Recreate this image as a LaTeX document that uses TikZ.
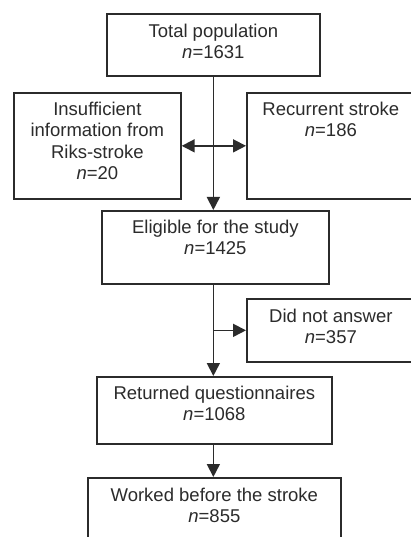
\documentclass[tikz,border=0pt]{standalone}
\usepackage{fontspec}
\setmainfont{Liberation Sans}
\usetikzlibrary{arrows.meta}
\definecolor{ink}{HTML}{2B2B2B}
\newcommand{\fstrut}{\rule{0pt}{14pt}}
\begin{document}
\begin{tikzpicture}[x=1pt,y=-1pt,
  box/.style={draw=ink,line width=1.7pt,rectangle,inner sep=0pt,anchor=north west},
  txt/.style={anchor=north,align=center,inner sep=0pt,text=ink,font=\fontsize{18.5}{21.5}\selectfont},
  conn/.style={draw=ink,line width=1.7pt,-{Triangle[length=13pt,width=13pt]}},
  conn2/.style={draw=ink,line width=1.7pt,{Triangle[length=13pt,width=13pt]}-{Triangle[length=13pt,width=13pt]}}]
\useasboundingbox (0,0) rectangle (411,537);
\clip (0,0) rectangle (411,537);
\fill[white] (0,0) rectangle (411,537);
% boxes
\node[box,minimum width=213pt,minimum height=62pt] (total) at (106,13) {};
\node[box,minimum width=167pt,minimum height=106pt] (ins) at (13,92) {};
\node[box,minimum width=168pt,minimum height=106pt] (rec) at (246,92) {};
\node[box,minimum width=227pt,minimum height=73pt] (elig) at (101,210) {};
\node[box,minimum width=168pt,minimum height=63pt] (dna) at (246,298) {};
\node[box,minimum width=235pt,minimum height=67pt] (ret) at (96,376) {};
\node[box,minimum width=253pt,minimum height=70pt] (work) at (87,477) {};
% texts
\node[txt] (ttotal) at ([yshift=-10pt]total.north) {\fstrut Total population\\\textit{n}=1631};
\node[txt] (tins) at ([yshift=-9pt]ins.north) {\fstrut Insufficient\\information from\\Riks-stroke\\\textit{n}=20};
\node[txt] (trec) at ([yshift=-9pt]rec.north) {\fstrut Recurrent stroke\\\textit{n}=186};
\node[txt] (telig) at ([yshift=-9pt]elig.north) {\fstrut Eligible for the study\\\textit{n}=1425};
\node[txt] (tdna) at ([yshift=-10pt]dna.north) {\fstrut Did not answer\\\textit{n}=357};
\node[txt] (tret) at ([yshift=-9pt]ret.north) {\fstrut Returned questionnaires\\\textit{n}=1068};
\node[txt] (twork) at ([yshift=-10pt]work.north) {\fstrut Worked before the stroke\\\textit{n}=855};
% connectors
\draw[conn] (total.south) -- (total.south |- elig.north);
\draw[conn2] (ins.east) -- (rec.west);
\draw[conn] (total.south |- elig.south) -- (total.south |- ret.north);
\draw[conn] (total.south |- dna.west) -- (dna.west);
\draw[conn] (total.south |- ret.south) -- (total.south |- work.north);
\end{tikzpicture}
\end{document}
